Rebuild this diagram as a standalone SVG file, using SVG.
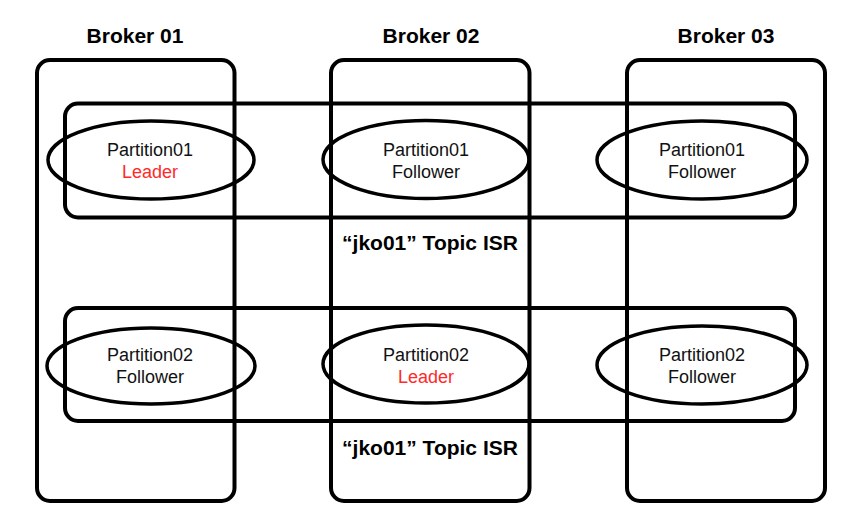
<svg xmlns="http://www.w3.org/2000/svg" width="860" height="524" viewBox="0 0 860 524">
  <style>
    .box { fill: none; stroke: #000; stroke-width: 4; }
    .part { fill: none; stroke: #000; stroke-width: 3.5; }
    .title { font-family: "Liberation Sans", Arial, sans-serif; font-size: 21px; font-weight: bold; fill: #000; text-anchor: middle; }
    .lbl { font-family: "Liberation Sans", Arial, sans-serif; font-size: 18px; fill: #111; text-anchor: middle; }
    .lead { fill: #ff2a2a; }
  </style>
  <rect width="860" height="524" fill="#fff"/>

  <!-- brokers -->
  <g id="broker01">
    <text class="title" x="135" y="43">Broker 01</text>
    <rect class="box" x="37" y="60" width="197.5" height="441" rx="13"/>
  </g>
  <g id="broker02">
    <text class="title" x="431" y="43">Broker 02</text>
    <rect class="box" x="331" y="60" width="198.5" height="441" rx="13"/>
  </g>
  <g id="broker03">
    <text class="title" x="726" y="43">Broker 03</text>
    <rect class="box" x="627" y="60" width="198" height="441" rx="13"/>
  </g>

  <!-- in-sync replica sets -->
  <g id="isr1">
    <rect class="box" x="65" y="103.5" width="730" height="114" rx="13"/>
    <text class="title" x="430" y="250">“jko01” Topic ISR</text>
  </g>
  <g id="isr2">
    <rect class="box" x="65" y="308" width="730" height="113" rx="13"/>
    <text class="title" x="430" y="455">“jko01” Topic ISR</text>
  </g>

  <!-- partition 01 replicas -->
  <g id="p01-b01">
    <ellipse class="part" cx="151" cy="160" rx="103" ry="39"/>
    <text class="lbl" x="150" y="156">Partition01</text>
    <text class="lbl lead" x="150" y="178">Leader</text>
  </g>
  <g id="p01-b02">
    <ellipse class="part" cx="426" cy="159.5" rx="103" ry="39"/>
    <text class="lbl" x="426" y="156">Partition01</text>
    <text class="lbl" x="426" y="178">Follower</text>
  </g>
  <g id="p01-b03">
    <ellipse class="part" cx="702" cy="160" rx="105" ry="39"/>
    <text class="lbl" x="702" y="156">Partition01</text>
    <text class="lbl" x="702" y="178">Follower</text>
  </g>

  <!-- partition 02 replicas -->
  <g id="p02-b01">
    <ellipse class="part" cx="151" cy="366" rx="104" ry="38"/>
    <text class="lbl" x="150" y="361">Partition02</text>
    <text class="lbl" x="150" y="383">Follower</text>
  </g>
  <g id="p02-b02">
    <ellipse class="part" cx="426" cy="364" rx="103" ry="39"/>
    <text class="lbl" x="426" y="361">Partition02</text>
    <text class="lbl lead" x="426" y="383">Leader</text>
  </g>
  <g id="p02-b03">
    <ellipse class="part" cx="702" cy="365" rx="105" ry="39"/>
    <text class="lbl" x="702" y="361">Partition02</text>
    <text class="lbl" x="702" y="383">Follower</text>
  </g>

  <g id="connectors"/>
</svg>
